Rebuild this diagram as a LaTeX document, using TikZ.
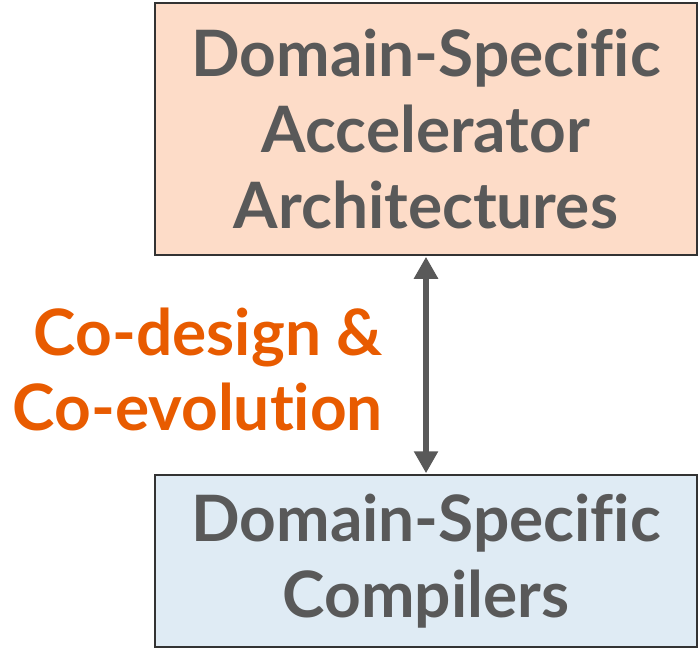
\documentclass[tikz,border=0pt]{standalone}
\usepackage{fontspec}
\setmainfont{Lato}[UprightFont=* Bold, RawFeature={-liga;-dlig}]
\usetikzlibrary{arrows.meta}
\definecolor{txtgray}{HTML}{595959}
\definecolor{peach}{HTML}{FDDCC8}
\definecolor{paleblue}{HTML}{DFEBF4}
\definecolor{accent}{HTML}{E85B00}
\tikzset{
  box/.style={draw=black!80, line width=1.5pt, inner sep=0pt, minimum width=542pt,
    text=txtgray, align=center, font=\fontsize{64}{76}\selectfont},
  link/.style={draw=txtgray, line width=6.5pt,
    {Triangle[width=23pt,length=22pt]}-{Triangle[width=23pt,length=22pt]}, shorten <=1pt, shorten >=1pt},
  caption/.style={text=accent, align=right, font=\fontsize{64}{75}\selectfont, inner sep=0pt}
}
\begin{document}
\begin{tikzpicture}[x=1pt,y=-1pt]
  \useasboundingbox (0,0) rectangle (698,649);
  \node[box, fill=peach, minimum height=252pt] (arch) at (426,129)
    {Domain-Specific\\Accelerator\\Architectures};
  \node[box, fill=paleblue, minimum height=172pt] (comp) at (426,561)
    {Domain-Specific\\Compilers};
  \draw[link] (arch.south) -- (comp.north);
  \node[caption, anchor=east] (codesign) at (383,369) {Co-design \&\\Co-evolution};
\end{tikzpicture}
\end{document}
